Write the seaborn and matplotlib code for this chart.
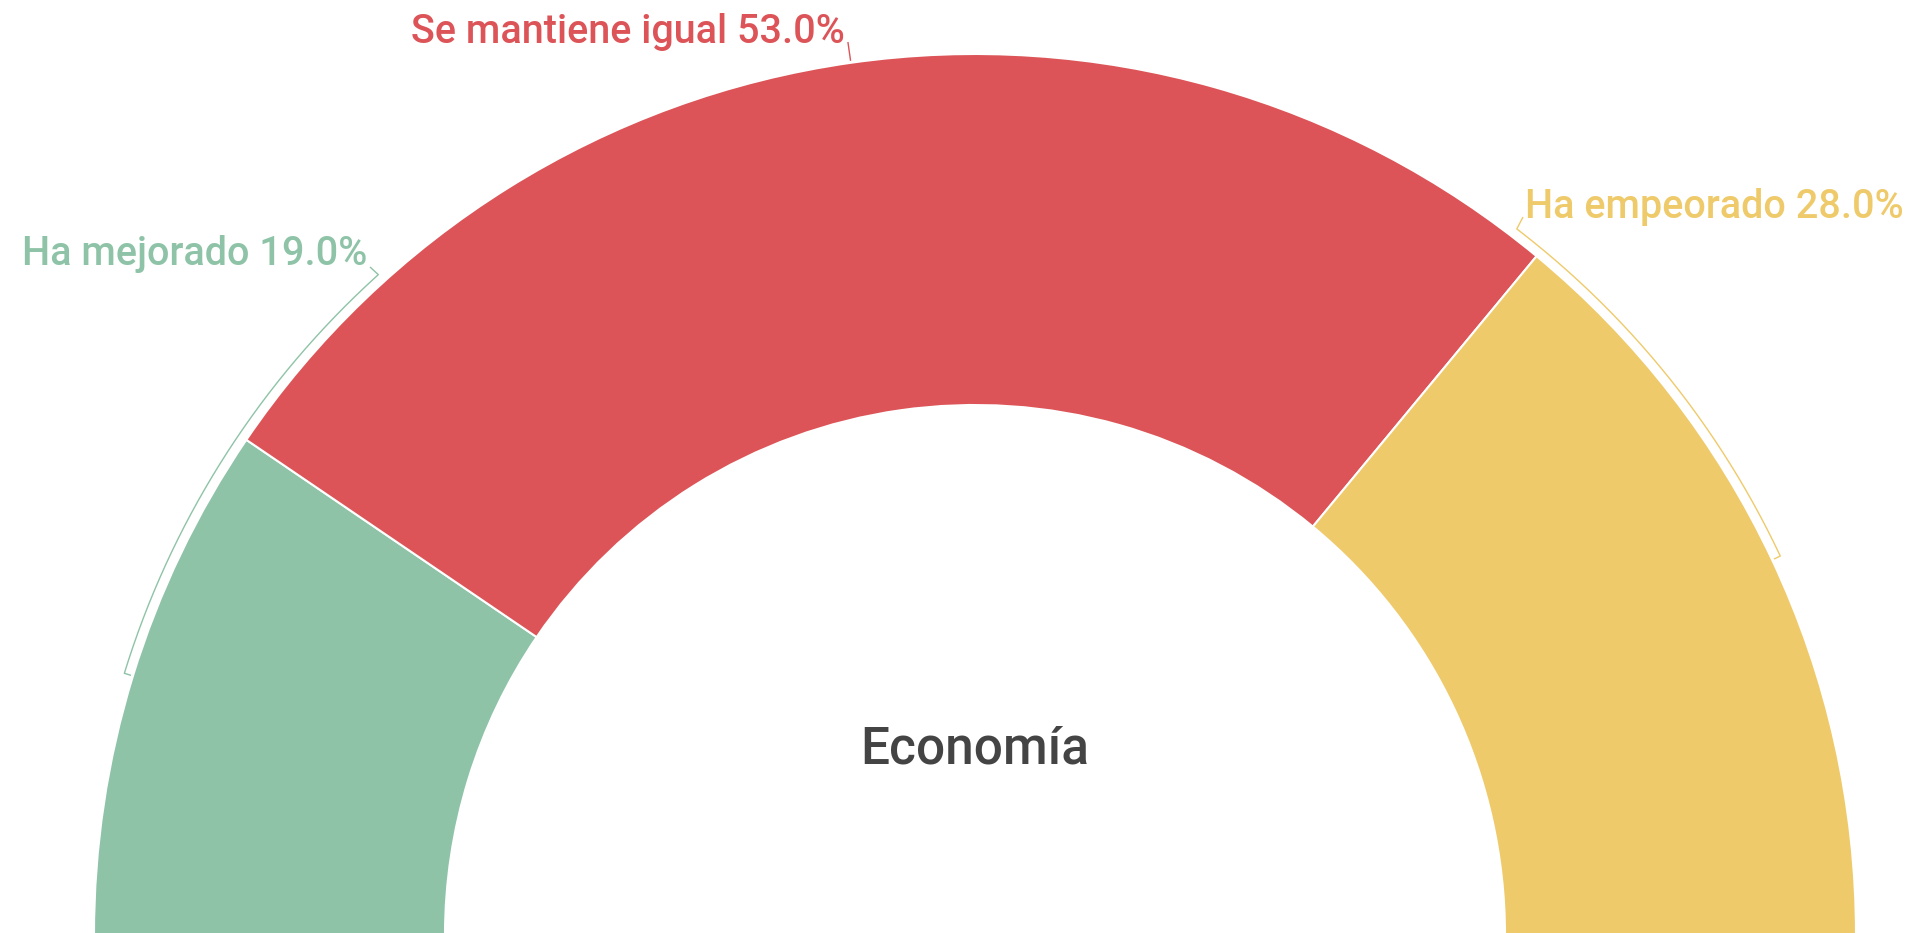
import numpy as np
import matplotlib
matplotlib.use("Agg")
import matplotlib.pyplot as plt
import seaborn as sns

# ---- data ----
categories = ["Ha mejorado", "Se mantiene igual", "Ha empeorado"]
values = [19.0, 53.0, 28.0]
colors = ["#8EC3A7", "#DC5457", "#EFCA6A"]
title = "Economía"

sns.set_theme(style="white")
plt.rcParams['font.family'] = ['Roboto', 'DejaVu Sans']
palette = sns.color_palette(colors)

W, H = 1915, 933
fig = plt.figure(figsize=(W / 100, H / 100), dpi=100)
ax = fig.add_axes([0, 0, 1, 1])

cx, cy = 975, -2
R, r_in = 881, 530
total = sum(values)
pie_vals = values + [total]  # hidden lower half -> semicircle
wedges, _ = ax.pie(pie_vals, colors=list(palette) + [(1, 1, 1, 0)],
                   startangle=180, counterclock=False, center=(cx, cy), radius=R,
                   wedgeprops=dict(width=R - r_in, edgecolor='white', linewidth=1.5))
wedges[-1].set_visible(False)
ax.set_xlim(0, W)
ax.set_ylim(0, H)
ax.set_aspect('auto')
ax.axis('off')

# ---- label lines (follow the arc) ----
Ra = 890
label_angles = [132.1, None, 52.5]
text_pos = [(367, H - 265, 'right'), (845, H - 43, 'right'), (1525, H - 218, 'left')]
conn_end = [(370, H - 267), None, (1523, H - 217)]

cum = 0
for i, (cat, v) in enumerate(zip(categories, values)):
    mid = 180 - (cum + v / 2) / total * 180
    cum += v
    col = palette[i]
    if label_angles[i] is None:
        a = np.deg2rad(mid)
        xs = [cx + (R + 2) * np.cos(a), cx + (R + 21) * np.cos(a)]
        ys = [cy + (R + 2) * np.sin(a), cy + (R + 21) * np.sin(a)]
    else:
        a0 = np.deg2rad(mid)
        th = np.deg2rad(np.linspace(mid, label_angles[i], 200))
        xs = [cx + (R + 2) * np.cos(a0)] + list(cx + Ra * np.cos(th)) + [conn_end[i][0]]
        ys = [cy + (R + 2) * np.sin(a0)] + list(cy + Ra * np.sin(th)) + [conn_end[i][1]]
    ax.plot(xs, ys, color=col, lw=1.0, solid_capstyle='butt')
    tx, ty, ha = text_pos[i]
    ax.text(tx, ty, f"{cat} {v:.1f}%", color=col, fontsize=28.5, fontweight='medium',
            ha=ha, va='baseline')

ax.text(975, H - 763, title, color='#444444', fontsize=37, fontweight='medium',
        ha='center', va='baseline')

fig.savefig("out.png", dpi=100, facecolor='white')
